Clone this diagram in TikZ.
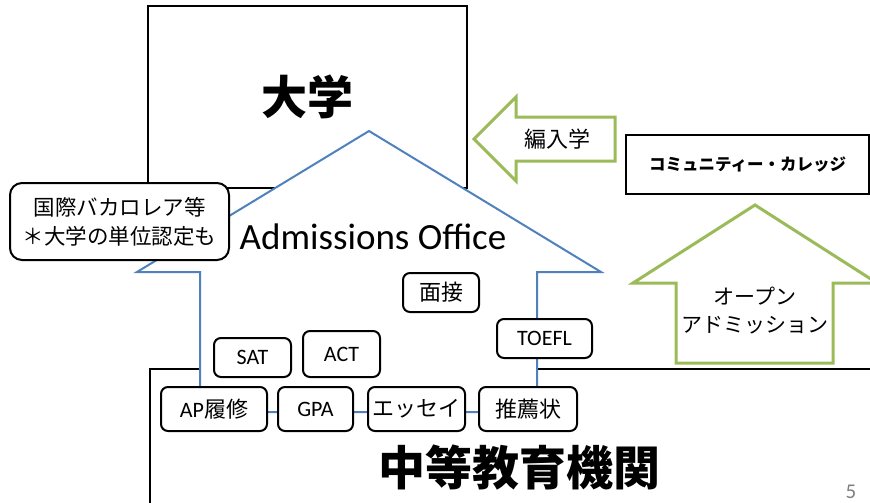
\documentclass[tikz,border=0pt]{standalone}
\usepackage{fontspec}
\setmainfont{Carlito}
\newfontfamily\jp{Noto Sans CJK JP}
\usepackage{xcolor}
\usepackage{tikz}
\usetikzlibrary{positioning}
\definecolor{houseblue}{HTML}{4F81BD}
\definecolor{arrowgreen}{HTML}{9BBB59}
\tikzset{
	roundbox/.style={rectangle, rounded corners=7pt, draw=black, fill=white, line width=2pt, inner sep=0pt, minimum height=40pt, font=\fontsize{22}{26}\selectfont},
	bigbox/.style={rectangle, draw=black, line width=2pt, inner sep=0pt, font=\jp\bfseries\fontsize{46}{50}\selectfont},
	housestyle/.style={draw=houseblue, line width=2pt, fill=white, line join=miter},
	greenarrow/.style={draw=arrowgreen, line width=3pt, fill=white, line join=miter},
	plaintext/.style={align=center, inner sep=0pt, font=\jp\fontsize{21}{28}\selectfont}
}

\begin{document}
\begin{tikzpicture}[x=1pt, y=-1pt]
		\useasboundingbox (0,0) rectangle (870,503);
		
		%Institutions
		\node[bigbox, minimum width=319pt, minimum height=182pt] at (307.5,97) (uni) {大学};
		\draw[line width=2pt] (875,369) -- (150,369) -- (150,510);
		\node[bigbox, draw=none, font=\jp\bfseries\fontsize{47}{50}\selectfont] at (519,468) (school) {中等教育機関};
		
		%House
		\draw[housestyle] (369,131) -- (601,272) -- (537,272) -- (537,412) -- (200,412) -- (200,272) -- (137,272) -- cycle;
		\node[font=\fontsize{37}{40}\selectfont, inner sep=0pt] at (373,237) (office) {Admissions Office};
		
		%Green arrows
		\draw[greenarrow] (474,139) -- (516,97) -- (516,117) -- (615,117) -- (615,161) -- (516,161) -- (516,181) -- cycle;
		\node[plaintext, font=\jp\fontsize{22}{28}\selectfont] at (557,139) (transfer) {編入学};
		\draw[greenarrow] (755,205) -- (877,283) -- (833,283) -- (833,363) -- (676,363) -- (676,283) -- (633,283) -- cycle;
		\node[plaintext] at (755,311) (open) {オープン\\アドミッション};
		
		\node[rectangle, draw=black, line width=2pt, fill=white, minimum width=243pt, minimum height=59pt, font=\jp\bfseries\fontsize{16.5}{20}\selectfont] at (747.5,164.5) (cc) {コミュニティー・カレッジ};
		
		%Boxes
		\node[roundbox, rounded corners=12pt, minimum width=219pt, minimum height=77pt, align=center, font=\jp\fontsize{21.5}{29}\selectfont] at (119.5,221.5) (ib) {国際バカロレア等\\＊大学の単位認定も};
		\node[roundbox, minimum width=76pt, minimum height=39pt] at (441,292.5) (interview) {\jp 面接};
		\node[roundbox, minimum width=95pt, minimum height=39pt] at (544.5,338.5) (toefl) {TOEFL};
		\node[roundbox, minimum width=77pt, minimum height=39pt] at (252.5,357.5) (sat) {SAT};
		\node[roundbox, minimum width=77pt, minimum height=46pt] at (341.5,354) (act) {ACT};
		\node[roundbox, minimum width=106pt, minimum height=44pt] at (214,409) (ap) {AP{\jp 履修}};
		\node[roundbox, minimum width=75pt, minimum height=44pt] at (315.5,409) (gpa) {GPA};
		\node[roundbox, minimum width=97pt, minimum height=44pt] at (416.5,409) (essay) {\jp エッセイ};
		\node[roundbox, minimum width=98pt, minimum height=44pt] at (528,409) (letter) {\jp 推薦状};
		
		\node[text=gray, font=\fontsize{21}{22}\selectfont, inner sep=0pt] at (851,492) (page) {5};
	\end{tikzpicture}
\end{document}
